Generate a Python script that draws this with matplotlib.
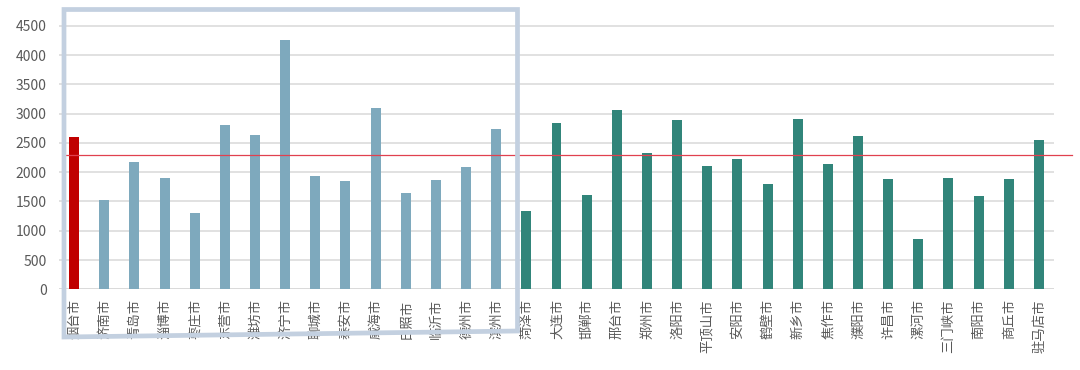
import matplotlib
matplotlib.use("Agg")
import matplotlib.pyplot as plt
from matplotlib.patches import Polygon

plt.rcParams['font.family'] = ['Noto Sans CJK SC', 'DejaVu Sans']

cities = ['烟台市', '济南市', '青岛市', '淄博市', '枣庄市', '东营市', '潍坊市', '济宁市',
          '聊城市', '泰安市', '威海市', '日照市', '临沂市', '德州市', '滨州市',
          '菏泽市', '大连市', '邯郸市', '邢台市', '郑州市', '洛阳市', '平顶山市', '安阳市',
          '鹤壁市', '新乡市', '焦作市', '濮阳市', '许昌市', '漯河市', '三门峡市', '南阳市',
          '商丘市', '驻马店市']
values = [2605, 1525, 2175, 1905, 1305, 2805, 2640, 4255,
          1940, 1850, 3090, 1650, 1865, 2090, 2735,
          1335, 2835, 1615, 3055, 2335, 2895, 2105, 2230,
          1800, 2915, 2135, 2615, 1885, 855, 1900, 1590,
          1880, 2550]
groups = ['focus'] + ['shandong'] * 14 + ['other'] * 18
average = 2300
yticks = [0, 500, 1000, 1500, 2000, 2500, 3000, 3500, 4000, 4500]

group_colors = {'focus': '#C00000', 'shandong': '#7EA9BD', 'other': '#31857A'}
colors = [group_colors[g] for g in groups]

W, H = 1080, 370
fig = plt.figure(figsize=(W / 100, H / 100), dpi=100)
ax = fig.add_axes([59 / W, (H - 289.3) / H, 995 / W, (289.3 - 19.9) / H])

x = list(range(len(cities)))
ax.bar(x, values, width=0.33, color=colors, zorder=3)
ax.set_xlim(-0.5, len(cities) - 0.5)
ax.set_ylim(0, 4600)
ax.set_yticks(yticks)
ax.set_yticklabels([str(t) for t in yticks])
ax.set_xticks(x)
ax.set_xticklabels(cities, rotation=90, fontsize=9.6, color='#595959')
ax.tick_params(axis='x', length=0, pad=7)
ax.tick_params(axis='y', length=0, pad=9, labelsize=10, labelcolor='#595959')
for s in ax.spines.values():
    s.set_visible(False)
ax.grid(axis='y', color='#D9D9D9', linewidth=1.1, zorder=0)
ax.axhline(0, color='#D9D9D9', linewidth=1.1, zorder=1)
ax.axhline(average, xmin=6 / 995, xmax=1013 / 995, color='#E0404F',
           linewidth=0.9, zorder=4, clip_on=False)

# highlight frame
corners = [(64, 9.5), (517.5, 9.5), (517.5, 331), (64, 337)]
frame = Polygon([(px / W, 1 - py / H) for px, py in corners], closed=True,
                fill=False, edgecolor='#C3D0E0', linewidth=3.4,
                transform=fig.transFigure, zorder=10, joinstyle='miter')
fig.add_artist(frame)

fig.savefig('out.png', dpi=100)
